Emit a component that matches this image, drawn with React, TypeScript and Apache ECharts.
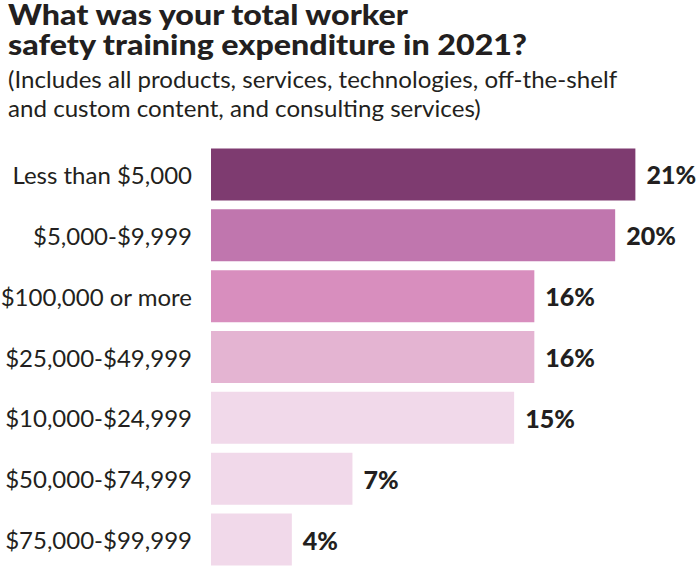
import React, { useEffect, useRef } from "react";
import * as echarts from "echarts";

const categories = [
  "Less than $5,000",
  "$5,000-$9,999",
  "$100,000 or more",
  "$25,000-$49,999",
  "$10,000-$24,999",
  "$50,000-$74,999",
  "$75,000-$99,999",
];
const values = [21, 20, 16, 16, 15, 7, 4];
const barColors = ["#7e3b70", "#c076ae", "#d88ebe", "#e4b4d2", "#f1d9ea", "#f1d9ea", "#f1d9ea"];

const titleLines = ["What was your total worker", "safety training expenditure in 2021?"];
const subtitleLines = [
  "(Includes all products, services, technologies, off-the-shelf",
  "and custom content, and consulting services)",
];

const TEXT = "#231f20";
const FONT = "Lato";

function measure(text: string, font: string): number {
  const c = document.createElement("canvas").getContext("2d");
  if (!c) return 1;
  c.font = font;
  return c.measureText(text).width || 1;
}

export default function App() {
  const ref = useRef<HTMLDivElement>(null);
  useEffect(() => {
    if (!ref.current) return;
    const chart = echarts.init(ref.current, undefined, { renderer: "svg" });

    const tSize = 29;
    const sSize = 23;
    const tFont = `900 ${tSize}px ${FONT}`;
    const sFont = `${sSize}px ${FONT}`;
    const tScale = 520 / measure(titleLines[1], tFont);
    const sScale = 609 / measure(subtitleLines[0], sFont);

    const titleEls = titleLines.map((t, i) => ({
      type: "text",
      x: 8,
      y: 25.5 + i * 30 - 0.387 * tSize,
      scaleX: tScale,
      style: {
        text: t,
        fill: TEXT,
        font: tFont,
        lineHeight: 20,
        align: "left",
        verticalAlign: "middle",
      },
    }));
    const subEls = subtitleLines.map((t, i) => ({
      type: "text",
      x: 8,
      y: 88 + i * 29 - 0.387 * sSize,
      scaleX: sScale,
      style: {
        text: t,
        fill: TEXT,
        font: sFont,
        align: "left",
        verticalAlign: "middle",
      },
    }));

    chart.setOption({
      animation: false,
      backgroundColor: "#ffffff",
      graphic: [...titleEls, ...subEls],
      grid: {
        left: 211,
        right: 4,
        top: 144,
        bottom: -3,
        containLabel: false,
        outerBoundsMode: "none",
      },
      xAxis: {
        type: "value",
        min: 0,
        max: 24,
        show: false,
        splitLine: { show: false },
      },
      yAxis: {
        type: "category",
        data: categories,
        inverse: true,
        axisLine: { show: false },
        axisTick: { show: false },
        splitLine: { show: false },
        axisLabel: {
          margin: 19,
          color: TEXT,
          fontSize: 24,
          fontFamily: FONT,
        },
      },
      series: [
        {
          type: "bar",
          barWidth: 52,
          data: values.map((v, i) => ({ value: v, itemStyle: { color: barColors[i] } })),
          label: {
            show: true,
            position: "right",
            distance: 11,
            formatter: "{c}%",
            color: TEXT,
            fontSize: 25,
            fontWeight: 900,
            fontFamily: FONT,
          },
        },
      ],
    });
    return () => chart.dispose();
  }, []);
  return (
    <div
      ref={ref}
      style={{ position: "absolute", left: 0, top: 0, width: 700, height: 567 }}
    />
  );
}
